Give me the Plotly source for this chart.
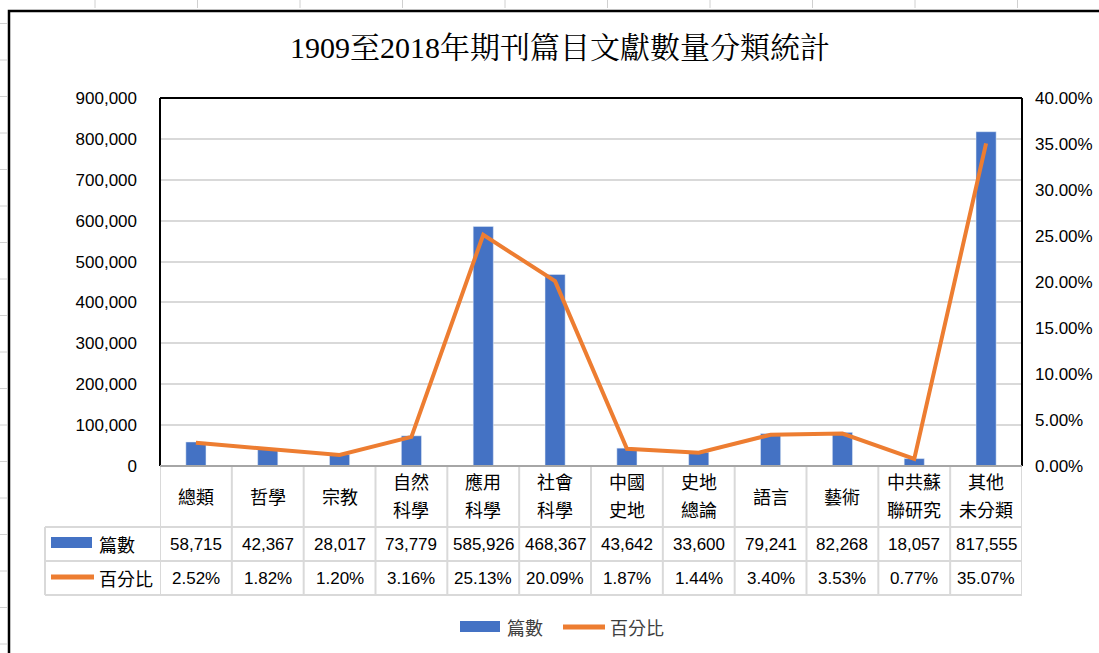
import plotly.graph_objects as go

# ---------------- data ----------------
categories = ["總類", "哲學", "宗教", "自然\n科學", "應用\n科學", "社會\n科學",
              "中國\n史地", "史地\n總論", "語言", "藝術", "中共蘇\n聯研究", "其他\n未分類"]
counts = [58715, 42367, 28017, 73779, 585926, 468367, 43642, 33600, 79241, 82268, 18057, 817555]
percents = [0.0252, 0.0182, 0.0120, 0.0316, 0.2513, 0.2009, 0.0187, 0.0144, 0.0340, 0.0353, 0.0077, 0.3507]
series_names = ["篇數", "百分比"]
title_text = "1909至2018年期刊篇目文獻數量分類統計"

BLUE = "#4472C4"
ORANGE = "#ED7D31"
GRID = "#D9D9D9"

W, H = 1099, 653
ML, MR, MT, MB = 160, 77, 98, 187
PW = W - ML - MR
PH = H - MT - MB


def px(x):
    return (x - ML) / PW


def py(y):
    return (H - MB - y) / PH


NUM_FONT = "Liberation Sans, Arial, sans-serif"
CJK_FONT = "Noto Sans CJK TC, Noto Sans CJK SC, sans-serif"

xs = list(range(len(categories)))

fig = go.Figure()
fig.add_trace(go.Bar(x=xs, y=counts, name=series_names[0], marker_color=BLUE,
                     width=0.28, yaxis="y", showlegend=False))
fig.add_trace(go.Scatter(x=xs, y=percents, name=series_names[1], mode="lines",
                         line=dict(color=ORANGE, width=4), yaxis="y2", showlegend=False))

shapes = []
annotations = []

# plot area border (left, top, right black)
shapes.append(dict(type="line", xref="paper", yref="paper", x0=0, x1=0, y0=0, y1=1,
                   line=dict(color="black", width=2)))
shapes.append(dict(type="line", xref="paper", yref="paper", x0=0, x1=1, y0=1, y1=1,
                   line=dict(color="black", width=2)))
shapes.append(dict(type="line", xref="paper", yref="paper", x0=1, x1=1, y0=0, y1=1,
                   line=dict(color="black", width=2)))

# ---- data table ----
row_y = [466, 527, 561, 595]
tbl_line = dict(color=GRID, width=2)
n = len(categories)
for i in range(n + 1):
    shapes.append(dict(type="line", xref="x", yref="paper", x0=i - 0.5, x1=i - 0.5,
                       y0=py(466), y1=py(595), line=tbl_line, layer="below"))
shapes.append(dict(type="line", xref="paper", yref="paper", x0=0, x1=1,
                   y0=py(466), y1=py(466), line=dict(color="#A6A6A6", width=2)))
for yy in row_y[1:]:
    shapes.append(dict(type="line", xref="paper", yref="paper", x0=px(45), x1=1,
                       y0=py(yy), y1=py(yy), line=tbl_line))
shapes.append(dict(type="line", xref="paper", yref="paper", x0=px(45), x1=px(45),
                   y0=py(527), y1=py(595), line=tbl_line))

# category headers and values
for i, c in enumerate(categories):
    lines = c.split("\n")
    ys = [496] if len(lines) == 1 else [481, 509]
    for ln, yy in zip(lines, ys):
        annotations.append(dict(x=i, y=py(yy), xref="x", yref="paper", text=ln,
                                showarrow=False, font=dict(family=CJK_FONT, size=18, color="#000"),
                                xanchor="center", yanchor="middle"))
    annotations.append(dict(x=i, y=py(544), xref="x", yref="paper", text=f"{counts[i]:,}",
                            showarrow=False, font=dict(family=NUM_FONT, size=17, color="#000"),
                            xanchor="center", yanchor="middle"))
    annotations.append(dict(x=i, y=py(578), xref="x", yref="paper", text=f"{percents[i]*100:.2f}%",
                            showarrow=False, font=dict(family=NUM_FONT, size=17, color="#000"),
                            xanchor="center", yanchor="middle"))

# table row legend keys
shapes.append(dict(type="rect", xref="paper", yref="paper", x0=px(51), x1=px(92),
                   y0=py(548), y1=py(537), fillcolor=BLUE, line=dict(width=0)))
shapes.append(dict(type="line", xref="paper", yref="paper", x0=px(51), x1=px(94),
                   y0=py(577), y1=py(577), line=dict(color=ORANGE, width=5)))
annotations.append(dict(x=px(97), y=py(544), xref="paper", yref="paper", text=series_names[0],
                        showarrow=False, font=dict(family=CJK_FONT, size=18, color="#000"),
                        xanchor="left", yanchor="middle"))
annotations.append(dict(x=px(97), y=py(578), xref="paper", yref="paper", text=series_names[1],
                        showarrow=False, font=dict(family=CJK_FONT, size=18, color="#000"),
                        xanchor="left", yanchor="middle"))

# bottom legend
shapes.append(dict(type="rect", xref="paper", yref="paper", x0=px(460), x1=px(500),
                   y0=py(632), y1=py(621), fillcolor=BLUE, line=dict(width=0)))
shapes.append(dict(type="line", xref="paper", yref="paper", x0=px(563), x1=px(605),
                   y0=py(627), y1=py(627), line=dict(color=ORANGE, width=5)))
annotations.append(dict(x=px(505), y=py(627), xref="paper", yref="paper", text=series_names[0],
                        showarrow=False, font=dict(family=CJK_FONT, size=18, color="#404040"),
                        xanchor="left", yanchor="middle"))
annotations.append(dict(x=px(608), y=py(627), xref="paper", yref="paper", text=series_names[1],
                        showarrow=False, font=dict(family=CJK_FONT, size=18, color="#404040"),
                        xanchor="left", yanchor="middle"))

# title
annotations.append(dict(x=px(560), y=py(48), xref="paper", yref="paper", text=title_text,
                        showarrow=False,
                        font=dict(family="Liberation Serif, Noto Serif CJK TC, Noto Sans CJK TC, serif",
                                  size=30, color="#000"),
                        xanchor="center", yanchor="middle"))

# chart outer border
shapes.append(dict(type="rect", xref="paper", yref="paper", x0=px(9), x1=px(1115),
                   y0=py(670), y1=py(11), line=dict(color="black", width=2.5),
                   fillcolor="rgba(0,0,0,0)"))
# faint worksheet grid marks outside the chart
for k in range(18):
    yy = 23.5 + 36.5 * k
    shapes.append(dict(type="line", xref="paper", yref="paper", x0=px(0), x1=px(7),
                       y0=py(yy), y1=py(yy), line=dict(color="#D0D0D0", width=1)))
for k in range(10):
    xx = 95 + 102.5 * k
    shapes.append(dict(type="line", xref="paper", yref="paper", x0=px(xx), x1=px(xx),
                       y0=py(0), y1=py(8), line=dict(color="#D0D0D0", width=1)))

fig.update_layout(
    width=W, height=H,
    margin=dict(l=ML, r=MR, t=MT, b=MB, pad=0, autoexpand=False),
    paper_bgcolor="white", plot_bgcolor="white",
    showlegend=False,
    xaxis=dict(range=[-0.5, n - 0.5], showticklabels=False, showgrid=False, zeroline=False,
               ticks="", fixedrange=True, automargin=False),
    yaxis=dict(range=[0, 900000], dtick=100000, tickformat=",d", showgrid=True,
               gridcolor=GRID, gridwidth=2, zeroline=False, ticks="", automargin=False,
               tickfont=dict(family=NUM_FONT, size=17, color="#000"), ticklabelstandoff=22),
    yaxis2=dict(range=[0, 0.4], dtick=0.05, tickformat=".2%", overlaying="y", side="right",
                showgrid=False, zeroline=False, ticks="", automargin=False,
                tickfont=dict(family=NUM_FONT, size=17, color="#000"), ticklabelstandoff=12),
    shapes=shapes,
    annotations=annotations,
)

fig.write_html("out.html", config={"displayModeBar": False},
               post_script="document.body.style.margin='0';document.body.style.overflow='hidden';")
